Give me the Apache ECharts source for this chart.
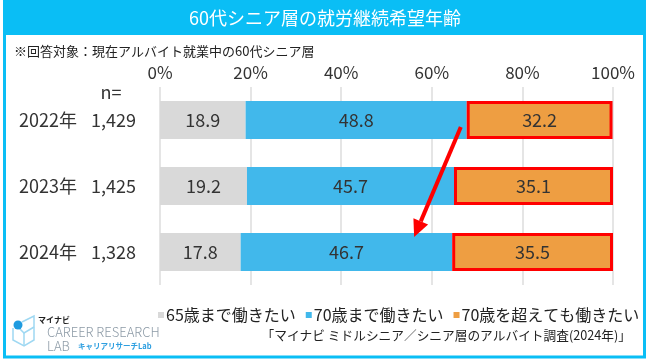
<!DOCTYPE html>
<html>
<head>
<meta charset="utf-8">
<script src="https://cdn.jsdelivr.net/npm/echarts@6/dist/echarts.min.js"></script>
<style>
html,body{margin:0;padding:0;background:#fff;}
#c{width:650px;height:360px;}
</style>
</head>
<body>
<div id="c"></div>
<script>
const years = ['2022年', '2023年', '2024年'];
const nValues = ['1,429', '1,425', '1,328'];
const seriesNames = ['65歳まで働きたい', '70歳まで働きたい', '70歳を超えても働きたい'];
const upTo65 = [18.9, 19.2, 17.8];
const upTo70 = [48.8, 45.7, 46.7];
const beyond70 = [32.2, 35.1, 35.5];
const xTicks = [0, 20, 40, 60, 80, 100];

const FONT = '"Noto Sans CJK JP", "Noto Sans", sans-serif';
const FRAME = '#0ABEF5';
const categories = years.map((y, i) => y + '|' + nValues[i]);

const chart = echarts.init(document.getElementById('c'), null, {renderer: 'canvas'});

const labelStyle = {
  show: true, position: 'inside', color: '#333', fontSize: 18, fontFamily: FONT,
  formatter: p => p.value.toFixed(1)
};

const option = {
  animation: false,
  backgroundColor: '#fff',
  textStyle: {fontFamily: FONT},
  grid: {left: 160, right: 37, top: 87, height: 198, containLabel: false},
  xAxis: {
    type: 'value', position: 'top', min: 0, max: 100, interval: 20,
    axisLine: {show: false}, axisTick: {show: false},
    axisLabel: {formatter: v => xTicks.includes(v) ? v + '%' : '', color: '#333', fontSize: 17, fontFamily: FONT, margin: 6},
    splitLine: {show: true, lineStyle: {color: '#DDDDDD', width: 1.5}}
  },
  yAxis: {
    type: 'category', inverse: true, data: categories,
    axisLine: {show: false}, axisTick: {show: false},
    axisLabel: {
      margin: 24, fontFamily: FONT,
      formatter: v => { const [y, n] = v.split('|'); return '{y|' + y + '}{n|' + n + '}'; },
      rich: {
        y: {fontSize: 18, color: '#333', fontFamily: FONT, width: 72, align: 'left'},
        n: {fontSize: 18, color: '#333', fontFamily: FONT}
      }
    }
  },
  legend: {
    left: 153, top: 302, itemWidth: 6, itemHeight: 6, itemGap: 10, icon: 'rect',
    itemStyle: {borderWidth: 0},
    textStyle: {fontSize: 16, color: '#222', fontFamily: FONT, padding: [0, 0, 0, -3]},
    data: seriesNames
  },
  series: [
    {name: seriesNames[0], type: 'bar', stack: 's', barWidth: 38, data: upTo65,
     itemStyle: {color: '#D9D9D9'}, label: labelStyle},
    {name: seriesNames[1], type: 'bar', stack: 's', barWidth: 38, data: upTo70,
     itemStyle: {color: '#41B8EB'}, label: labelStyle},
    {name: seriesNames[2], type: 'bar', stack: 's', barWidth: 38, data: beyond70,
     itemStyle: {color: '#EE9E42', borderColor: '#FF0000', borderWidth: 3}, label: labelStyle}
  ]
};
chart.setOption(option);

// annotation arrow (from end of 2022 blue bar area down to 2024)
const p0 = chart.convertToPixel({gridIndex: 0}, [66.4, 0]);
const p1 = chart.convertToPixel({gridIndex: 0}, [56.1, 2]);
const sx = p0[0], sy = p0[1] + 7, tx = p1[0], ty = p1[1] - 15;
const ang = Math.atan2(ty - sy, tx - sx);
const headLen = 17, headHalf = 8;
const bx = tx - headLen * Math.cos(ang), by = ty - headLen * Math.sin(ang);
const nx = -Math.sin(ang), ny = Math.cos(ang);

chart.setOption({
  graphic: [
    // outer frame and title bar
    {type: 'rect', shape: {x: 4.5, y: 0, width: 640, height: 357}, style: {fill: 'none', stroke: FRAME, lineWidth: 3}, z: 0},
    {type: 'rect', shape: {x: 3, y: 0, width: 643, height: 35}, style: {fill: FRAME}, z: 1},
    {type: 'text', x: 325, y: 18, style: {text: '60代シニア層の就労継続希望年齢', fill: '#fff', font: '18px ' + FONT, textAlign: 'center', textVerticalAlign: 'middle'}, z: 2},
    {type: 'text', x: 14, y: 51, style: {text: '※回答対象：現在アルバイト就業中の60代シニア層', fill: '#222', font: '13px ' + FONT, textVerticalAlign: 'middle'}},
    {type: 'text', x: 111, y: 92, style: {text: 'n=', fill: '#333', font: '18px ' + FONT, textAlign: 'center', textVerticalAlign: 'middle'}},
    {type: 'text', x: 631, y: 335, style: {text: '「マイナビ ミドルシニア／シニア層のアルバイト調査(2024年)」', fill: '#222', font: '12.7px ' + FONT, textAlign: 'right', textVerticalAlign: 'middle'}},
    // arrow
    {type: 'line', shape: {x1: sx, y1: sy, x2: bx, y2: by}, style: {stroke: '#FF0000', lineWidth: 4}, z: 20},
    {type: 'polygon', shape: {points: [[tx, ty], [bx + nx * headHalf, by + ny * headHalf], [bx - nx * headHalf, by - ny * headHalf]]}, style: {fill: '#FF0000'}, z: 20},
    // logo
    {type: 'polyline', shape: {points: [[22, 322], [34, 316], [34, 340], [24, 346], [13, 340], [13, 328]]}, style: {stroke: '#9FD8F2', lineWidth: 1.5, fill: 'none'}},
    {type: 'polyline', shape: {points: [[18, 327], [24, 333], [34, 327]]}, style: {stroke: '#9FD8F2', lineWidth: 1.5, fill: 'none'}},
    {type: 'line', shape: {x1: 24, y1: 333, x2: 24, y2: 346}, style: {stroke: '#9FD8F2', lineWidth: 1.5}},
    {type: 'circle', shape: {cx: 18, cy: 325, r: 4.5}, style: {fill: '#1E9BE0'}},
    {type: 'text', x: 38, y: 320, style: {text: 'マイナビ', fill: '#222', font: 'bold 8px ' + FONT, textVerticalAlign: 'middle'}},
    {type: 'text', x: 47, y: 332, style: {text: 'CAREER RESEARCH', fill: '#8C9AA6', font: '300 13px ' + FONT, textVerticalAlign: 'middle'}},
    {type: 'text', x: 47, y: 346, style: {text: 'LAB', fill: '#8C9AA6', font: '300 13px ' + FONT, textVerticalAlign: 'middle'}},
    {type: 'text', x: 78, y: 346, style: {text: 'キャリアリサーチLab', fill: '#2E9FE0', font: 'bold 7.5px ' + FONT, textVerticalAlign: 'middle'}}
  ]
});
</script>
</body>
</html>
